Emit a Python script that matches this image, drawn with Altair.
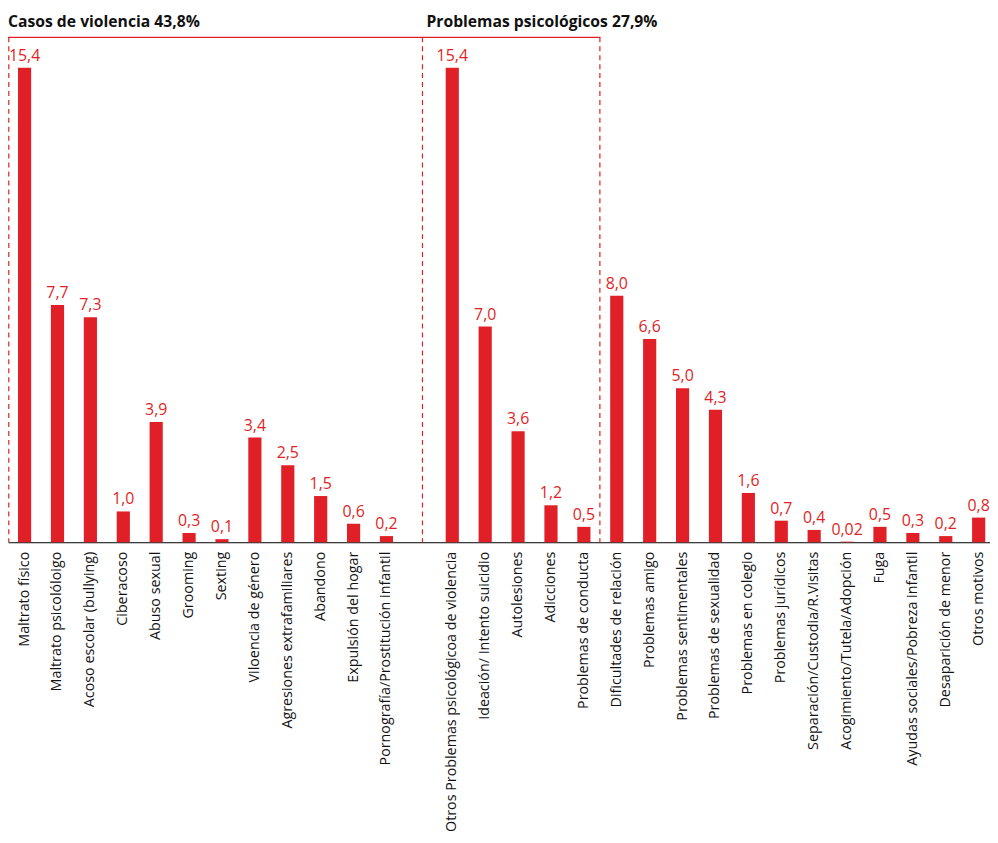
import altair as alt
import pandas as pd

violence_cats = ["Maltrato físico", "Maltrato psicolóloigo", "Acoso escolar (bullying)", "Ciberacoso",
                 "Abuso sexual", "Grooming", "Sexting", "Viloencia de género",
                 "Agresiones extrafamiliares", "Abandono", "Expulsión del hogar",
                 "Pornografía/Prostitución infantil"]
violence_vals = [15.4, 7.7, 7.3, 1.0, 3.9, 0.3, 0.1, 3.4, 2.5, 1.5, 0.6, 0.2]

psych_cats = ["Otros Problemas psicológicoa de violencia", "Ideación/ Intento suicidio",
              "Autolesiones", "Adicciones", "Problemas de conducta"]
psych_vals = [15.4, 7.0, 3.6, 1.2, 0.5]

other_cats = ["Dificultades de relación", "Problemas amigo", "Problemas sentimentales",
              "Problemas de sexualidad", "Problemas en colegio", "Problemas jurídicos",
              "Separación/Custodia/R.Visitas", "Acogimiento/Tutela/Adopción", "Fuga",
              "Ayudas sociales/Pobreza infantil", "Desaparición de menor", "Otros motivos"]
other_vals = [8.0, 6.6, 5.0, 4.3, 1.6, 0.7, 0.4, 0.02, 0.5, 0.3, 0.2, 0.8]

group_titles = ["Casos de violencia 43,8%", "Problemas psicológicos 27,9%"]

GAP = " "
domain = violence_cats + [GAP] + psych_cats + other_cats
cats = violence_cats + psych_cats + other_cats
vals = violence_vals + psych_vals + other_vals

df = pd.DataFrame({
    "cat": cats,
    "val": vals,
    "label": [str(v).replace(".", ",") for v in vals],
})

RED = "#e01f26"
FONT = "Open Sans"
W, H = 988, 535

x = alt.X("cat:N", sort=None,
          scale=alt.Scale(domain=domain, paddingInner=0.6, paddingOuter=0.2245, align=0.678),
          axis=alt.Axis(title=None, labelAngle=-90, labelFontSize=14.4, labelColor="#111",
                        labelFont=FONT, ticks=False, grid=False, domainColor="#000",
                        domainWidth=1, labelPadding=9, labelLimit=400))
y = alt.Y("val:Q", scale=alt.Scale(domain=[0, 17.26], nice=False), axis=None)

base = alt.Chart(df)
bars = base.mark_bar(color=RED).encode(x=x, y=y)
texts = base.mark_text(color=RED, font=FONT, fontSize=16, dy=-4, baseline="bottom").encode(
    x=x, y=y, text="label:N")

one = pd.DataFrame({"a": [0]})


def title_layer(text, px):
    return alt.Chart(one).mark_text(font=FONT, fontWeight="bold", fontSize=15.8, align="left",
                                    baseline="alphabetic", color="#111", text=text).encode(
        x=alt.value(px), y=alt.value(16.5))


def vline(px):
    return alt.Chart(one).mark_rule(color=RED, strokeWidth=1.2, strokeDash=[5, 4]).encode(
        x=alt.value(px), y=alt.value(27), y2=alt.value(H))


top_line = alt.Chart(one).mark_rule(color=RED, strokeWidth=1.2).encode(
    x=alt.value(0), x2=alt.value(596), y=alt.value(27))

chart = alt.layer(
    vline(0.8), vline(417), vline(595.5), top_line, bars, texts,
    title_layer(group_titles[0], 0), title_layer(group_titles[1], 421)
).properties(
    width=W, height=H,
    autosize=alt.AutoSizeParams(type="none"),
    padding={"left": 0, "right": 0, "top": 0, "bottom": 288},
    background="white"
).configure(font=FONT).configure_view(stroke=None, strokeWidth=0).configure_axis(grid=False)

chart.save("out.html", embed_options={"renderer": "svg", "actions": False})
